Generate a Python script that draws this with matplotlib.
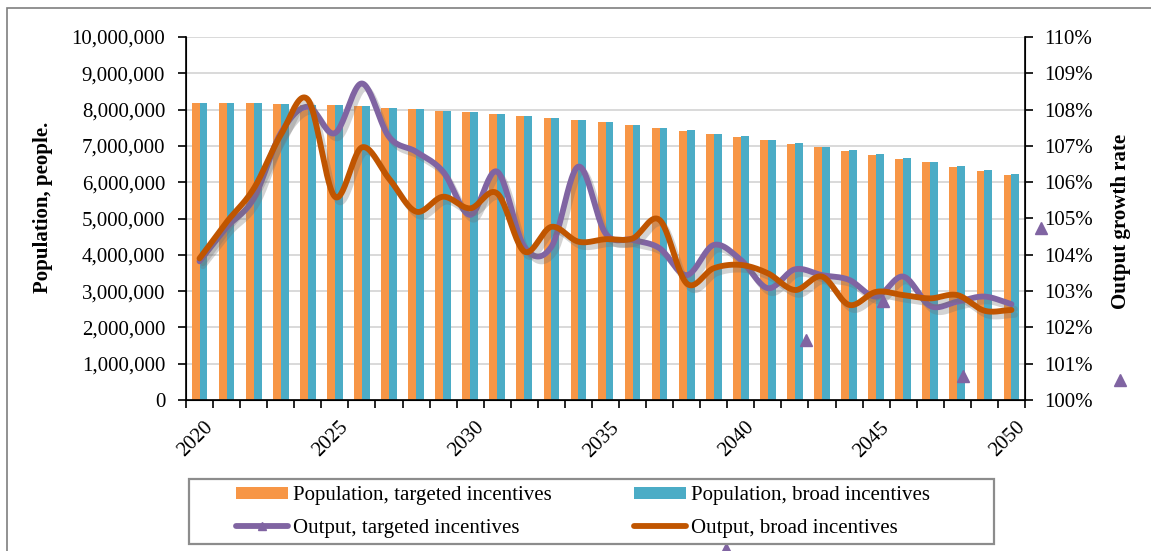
import numpy as np
import matplotlib
matplotlib.use("Agg")
import matplotlib.pyplot as plt
import matplotlib.patheffects as pe
from matplotlib.patches import Rectangle, Patch
from matplotlib.lines import Line2D
from matplotlib.ticker import FuncFormatter

plt.rcParams['font.family'] = ['Liberation Serif', 'DejaVu Serif']

# ---------------- data ----------------
years = list(range(2020, 2051))
pop_targeted = [8.19, 8.18, 8.17, 8.16, 8.14, 8.12, 8.09, 8.05, 8.02, 7.97,
                7.93, 7.88, 7.82, 7.77, 7.70, 7.65, 7.58, 7.49, 7.41, 7.34,
                7.25, 7.16, 7.06, 6.96, 6.86, 6.75, 6.65, 6.55, 6.43, 6.31, 6.19]
pop_broad = [8.19, 8.18, 8.17, 8.16, 8.14, 8.12, 8.09, 8.05, 8.02, 7.97,
             7.93, 7.88, 7.82, 7.77, 7.70, 7.65, 7.58, 7.49, 7.43, 7.34,
             7.26, 7.16, 7.07, 6.97, 6.88, 6.78, 6.67, 6.56, 6.45, 6.33, 6.22]
out_targeted = [103.82, 104.75, 105.55, 107.35, 108.08, 107.35, 108.72, 107.25, 106.84, 106.29,
                105.10, 106.29, 104.22, 104.22, 106.43, 104.59, 104.41, 104.18, 103.44, 104.27,
                103.86, 103.08, 103.60, 103.44, 103.31, 102.85, 103.40, 102.59, 102.71, 102.85, 102.64]
out_broad = [103.90, 104.90, 105.82, 107.30, 108.28, 105.60, 106.96, 106.10, 105.19, 105.60,
             105.28, 105.69, 104.09, 104.77, 104.36, 104.43, 104.45, 104.96, 103.21, 103.63,
             103.72, 103.49, 103.03, 103.40, 102.62, 102.98, 102.89, 102.80, 102.89, 102.46, 102.48]
# stray triangle markers visible in the picture (category position, %)
stray_pos = [22.41, 25.27, 28.20, 31.09, 34.0, 19.47]
stray_val = [101.65, 102.74, 100.66, 104.73, 100.55, 95.9]

tick_years = [2020, 2025, 2030, 2035, 2040, 2045, 2050]

c_orange = '#F79646'
c_teal = '#4BACC6'
c_purple = '#8064A2'
c_brown = '#C05500'
FS = 15

W, H = 1151, 551
fig = plt.figure(figsize=(W / 100, H / 100), dpi=100)

def fx(px):
    return px / W

def fy(py):
    return 1 - py / H

L, R, T, B = 186, 1025, 37, 400
ax = fig.add_axes([fx(L), fy(B), fx(R) - fx(L), fy(T) - fy(B)])
ax2 = ax.twinx()

n = len(years)
x = np.arange(n)
bw = 0.29
ax.bar(x - 0.145, np.array(pop_targeted) * 1e6, width=bw, color=c_orange, zorder=2)
ax.bar(x + 0.145, np.array(pop_broad) * 1e6, width=bw, color=c_teal, zorder=2)

ax.set_xlim(-0.5, n - 0.5)
ax.set_ylim(0, 10_000_000)
ax.set_yticks(np.arange(0, 10_000_001, 1_000_000))
ax.yaxis.set_major_formatter(FuncFormatter(lambda v, p: f"{int(v):,}"))
ax.grid(axis='y', color='#D9D9D9', linewidth=1.4, zorder=0)
ax.set_axisbelow(True)

# x ticks: marks at category boundaries, labels every 5 years
ax.set_xticks(np.arange(-0.5, n, 1.0))
ax.set_xticklabels([])
ax.tick_params(axis='x', length=6, width=1.2, direction='out')
for yv in tick_years:
    i = years.index(yv)
    ax.text(i + 0.15, -0.05, str(yv), transform=ax.get_xaxis_transform(),
            rotation=45, ha='right', va='top', rotation_mode='anchor', fontsize=FS)

ax.tick_params(axis='y', length=6, width=1.2, direction='out', labelsize=FS, pad=9)
ax.spines['top'].set_visible(False)
ax2.spines['top'].set_visible(False)
for s in ['left', 'bottom']:
    ax.spines[s].set_linewidth(1.2)
ax2.spines['right'].set_linewidth(1.2)

ax.set_ylabel('Population, people.', fontsize=15, fontweight='bold')
ax.yaxis.set_label_coords((53 - L) / (R - L), (B - 207) / (B - T))

# secondary axis
ax2.set_ylim(100, 110)
ax2.set_yticks(np.arange(100, 111, 1))
ax2.yaxis.set_major_formatter(FuncFormatter(lambda v, p: f"{int(round(v))}%"))
ax2.tick_params(axis='y', length=6, width=1.2, direction='out', labelsize=FS, pad=8)
ax2.set_ylabel('Output growth rate', fontsize=15, fontweight='bold', rotation=90)
ax2.yaxis.set_label_coords((1111 - L) / (R - L), (B - 221) / (B - T))


def catmull(xs, ys, steps=24):
    xs = np.asarray(xs, float)
    ys = np.asarray(ys, float)
    px = np.concatenate([[2 * xs[0] - xs[1]], xs, [2 * xs[-1] - xs[-2]]])
    py = np.concatenate([[2 * ys[0] - ys[1]], ys, [2 * ys[-1] - ys[-2]]])
    ox, oy = [], []
    for k in range(1, len(px) - 2):
        t = np.linspace(0, 1, steps, endpoint=False)
        for arr, out in ((px, ox), (py, oy)):
            p0, p1, p2, p3 = arr[k - 1], arr[k], arr[k + 1], arr[k + 2]
            out.extend(0.5 * ((2 * p1) + (-p0 + p2) * t +
                              (2 * p0 - 5 * p1 + 4 * p2 - p3) * t ** 2 +
                              (-p0 + 3 * p1 - 3 * p2 + p3) * t ** 3))
    ox.append(xs[-1])
    oy.append(ys[-1])
    return np.array(ox), np.array(oy)

LW = 4.2
shadow = [pe.SimpleLineShadow(offset=(2.5, -3.5), shadow_color='#707070', alpha=0.3),
          pe.Normal()]
sx, sy = catmull(x, out_targeted)
ax2.plot(sx, sy, color=c_purple, lw=LW, solid_capstyle='round', path_effects=shadow, zorder=3)
sx, sy = catmull(x, out_broad)
ax2.plot(sx, sy, color=c_brown, lw=LW, solid_capstyle='round', path_effects=shadow, zorder=4)

ax2.plot(stray_pos, stray_val, linestyle='none', marker='^', markersize=8,
         color=c_purple, clip_on=False, zorder=5)

# legend (column-major order gives rows: population / output)
handles = [Patch(facecolor=c_orange, edgecolor='none'),
           Line2D([0], [0], color=c_purple, lw=LW, marker='^', markersize=6, solid_capstyle='round'),
           Patch(facecolor=c_teal, edgecolor='none'),
           Line2D([0], [0], color=c_brown, lw=LW, solid_capstyle='round')]
labels = ['Population, targeted incentives', 'Output, targeted incentives',
          'Population, broad incentives', 'Output, broad incentives']
fig.legend(handles, labels, ncol=2, frameon=False, loc='center',
           bbox_to_anchor=(fx(583), fy(512)), fontsize=FS,
           handlelength=2.5, handleheight=0.5, handletextpad=0.25,
           columnspacing=3.9, labelspacing=0.66, numpoints=1)
fig.patches.append(Rectangle((fx(189), fy(544)), fx(994) - fx(189), fy(479) - fy(544),
                             transform=fig.transFigure, fill=False,
                             edgecolor='#8C8C8C', linewidth=1.6))
# outer chart border
fig.patches.append(Rectangle((fx(7), fy(560)), 1.2, fy(7.5) - fy(560),
                             transform=fig.transFigure, fill=False,
                             edgecolor='#7F7F7F', linewidth=1.2))

fig.savefig('out.png', dpi=100)
